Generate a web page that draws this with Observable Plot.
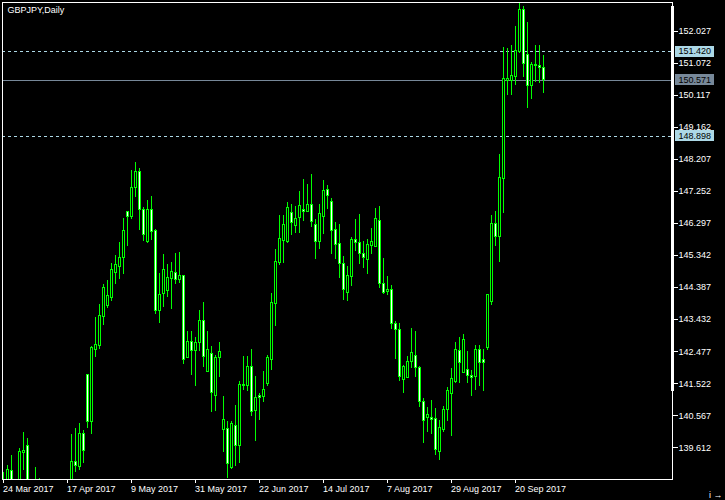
<!DOCTYPE html>
<html>
<head>
<meta charset="utf-8">
<script src="https://cdn.jsdelivr.net/npm/d3@7"></script>
<script src="https://cdn.jsdelivr.net/npm/@observablehq/plot@0.6"></script>
<style>
  html, body { margin: 0; padding: 0; background: #000; overflow: hidden; }
  svg { display: block; }
</style>
</head>
<body>
<script>
// GBPJPY daily candles, 24 Mar 2017 (bar 0) .. 29 Sep 2017 (bar 135)
const open = [138.55,138.40,138.906,138.30,138.40,139.451,139.651,138.50,138.20,138.00,
137.6,137.2,136.7,136.0,136.2,135.8,136.0,136.4,139.174,139.034,
140.029,141.767,140.375,142.532,142.652,143.504,143.832,144.082,144.815,144.994,
145.262,146.645,146.484,147.360,147.837,146.705,145.739,146.684,146.058,143.683,
144.201,144.279,144.637,144.827,144.619,144.717,142.294,142.759,142.491,142.741,
143.397,141.865,142.413,141.150,142.294,140.148,140.178,139.004,140.256,139.660,
141.439,141.448,142.014,140.703,141.141,141.120,141.519,142.234,143.903,145.113,
145.769,145.739,146.615,146.216,146.466,146.705,146.633,146.833,146.258,145.739,
146.484,147.280,146.943,146.109,145.691,145.095,144.219,144.696,145.811,145.721,
145.393,145.194,145.611,145.590,146.365,144.499,144.249,144.321,143.307,143.108,
141.639,141.698,142.163,142.354,141.996,140.971,140.506,140.506,140.476,139.481,
140.128,140.745,141.221,141.567,142.491,141.835,141.916,141.758,141.716,142.532,
142.214,142.580,143.951,146.288,145.888,147.629,150.528,150.537,150.656,151.401,
152.665,151.324,150.388,151.005,150.996,150.936];
const high = [138.885,139.085,139.383,138.60,139.582,140.068,139.880,138.60,139.016,138.688,
138.0,137.5,137.0,136.5,136.6,136.2,136.6,140.008,140.178,140.327,
140.128,141.796,142.631,143.486,143.883,144.479,144.598,145.095,145.343,145.730,
146.436,146.654,147.876,148.105,147.926,146.764,146.982,147.101,146.118,144.815,
145.373,145.075,145.134,145.393,145.432,144.747,143.078,143.078,142.899,143.704,
143.942,143.078,142.631,142.363,142.741,141.141,140.405,140.405,140.873,141.588,
142.333,142.333,142.541,141.737,141.221,141.886,142.354,144.201,145.522,146.535,
146.535,146.913,146.854,146.803,147.250,147.608,147.459,147.757,146.416,146.863,
147.578,147.429,147.041,146.317,146.267,145.313,145.015,145.870,146.416,146.565,
145.760,145.820,146.139,146.752,146.803,145.244,144.717,144.440,143.376,143.307,
142.065,142.333,143.158,143.078,142.035,141.090,140.822,141.022,140.774,140.426,
140.843,141.400,141.966,142.759,142.890,142.980,142.482,141.916,142.661,142.661,
142.532,144.151,146.535,146.654,148.353,151.532,151.503,151.601,152.167,152.862,
152.763,152.277,151.085,151.601,151.601,151.303];
const low = [138.2,138.2,138.1,137.9,138.2,138.936,138.3,138.0,137.7,137.3,
137.0,136.5,135.8,135.6,135.4,135.5,135.7,136.2,138.885,138.936,
139.135,140.178,140.008,142.312,142.541,143.257,143.772,143.981,144.479,144.637,
144.777,145.620,146.416,147.080,146.088,145.769,145.700,145.790,143.584,143.307,
143.793,144.100,143.734,144.479,144.517,142.094,142.280,141.767,141.448,142.491,
141.996,141.847,140.673,140.703,141.716,139.481,138.688,138.965,139.064,139.135,
141.320,141.299,140.545,139.809,140.426,140.971,141.439,141.916,143.236,145.045,
145.113,145.700,145.939,145.989,146.007,146.365,146.620,146.168,145.224,145.522,
145.969,146.714,145.373,145.215,144.666,144.002,143.972,144.419,145.462,145.075,
144.964,144.777,145.373,145.570,144.350,144.181,144.151,143.137,142.234,141.588,
141.221,141.690,141.966,141.698,140.822,139.749,140.077,140.008,139.383,139.234,
140.068,140.405,139.949,141.519,141.519,141.820,141.537,141.150,141.320,141.439,
141.290,142.512,143.853,145.611,145.143,146.603,150.111,150.111,150.409,151.372,
150.656,149.732,149.983,150.507,150.460,150.179];
const close = [138.45,138.936,138.30,138.20,139.481,139.502,138.50,138.10,138.00,137.60,
137.2,136.7,136.0,136.2,135.8,136.0,136.4,139.174,139.055,140.029,
139.511,140.375,142.592,142.661,143.525,144.359,144.121,144.917,145.066,145.274,
146.079,146.484,147.360,147.837,146.705,145.948,146.684,146.037,143.683,144.172,
144.917,144.678,144.857,144.619,144.738,142.234,142.771,142.491,142.741,143.397,
142.312,142.532,141.239,142.294,142.473,140.426,139.135,140.327,139.660,141.498,
141.498,142.014,140.673,141.102,141.090,141.320,142.294,143.933,145.155,145.840,
146.258,146.764,146.317,146.437,146.803,146.645,146.854,146.335,145.739,146.586,
147.259,147.101,146.067,145.662,145.095,144.321,144.738,145.811,145.709,145.393,
145.262,145.641,145.739,146.437,144.499,144.219,144.329,143.307,143.108,141.716,
142.014,142.163,142.443,141.996,140.971,140.405,140.575,140.426,139.552,140.208,
140.745,141.290,141.668,142.512,142.133,142.810,141.746,141.686,142.532,142.133,
142.133,144.151,146.288,145.888,147.658,150.609,150.588,150.677,151.431,152.665,
151.056,150.388,151.026,150.975,150.924,150.571];

const tickBars = [0, 16, 32, 48, 64, 80, 96, 112, 128];
const tickLabels = ["24 Mar 2017","17 Apr 2017","9 May 2017","31 May 2017","22 Jun 2017",
                    "14 Jul 2017","7 Aug 2017","29 Aug 2017","20 Sep 2017"];
const priceTicks = [152.027,151.072,150.117,149.162,148.207,147.252,146.297,145.342,
                    144.387,143.432,142.477,141.522,140.567,139.612];
const dashedLevels = [151.420, 148.898];
const bidLevel = [150.571];
const title = "GBPJPY,Daily";

const xDomain = [-0.125, 167.375];
const yDomain = [138.667, 152.882];
const pxX = 4;          // pixels per bar
const pxY = 33.556;     // pixels per yen

const candles = d3.range(open.length).map(i => ({i, o: open[i], h: high[i], l: low[i], c: close[i]}));
const top_ = d => Math.max(d.o, d.c);
const bot_ = d => Math.min(d.o, d.c);
const filled = candles.filter(d => Math.abs(d.o - d.c) > 0.045);

const GREEN = "#00ff00";
const levels = [
  ...dashedLevels.map(v => ({v, bg: "#add8e6"})),
  ...bidLevel.map(v => ({v, bg: "#778899"}))
];
const scaleBar = [{y1: 152.76, y2: 141.30}];

const plot = Plot.plot({
  width: 725,
  height: 500,
  marginTop: 2,
  marginRight: 53,
  marginBottom: 21,
  marginLeft: 2,
  style: {background: "#000", color: "#fff", fontFamily: "'Liberation Sans', Arial, sans-serif", fontSize: "9px", shapeRendering: "crispEdges"},
  x: {type: "linear", domain: xDomain},
  y: {type: "linear", domain: yDomain},
  marks: [
    Plot.ruleY(dashedLevels, {stroke: "#add8e6", strokeDasharray: "3,3"}),
    Plot.ruleY(bidLevel, {stroke: "#778899"}),
    Plot.ruleX(candles, {x: "i", y1: "h", y2: "l", stroke: GREEN, strokeWidth: 1, clip: true}),
    Plot.ruleX(candles, {x: "i", y1: top_, y2: bot_, stroke: GREEN, strokeWidth: 3, insetTop: -0.5, insetBottom: -0.5, clip: true}),
    Plot.ruleX(filled.filter(d => d.c >= d.o), {x: "i", y1: top_, y2: bot_, stroke: "#000", strokeWidth: 1, insetTop: 0.5, insetBottom: 0.5, clip: true}),
    Plot.ruleX(filled.filter(d => d.c < d.o), {x: "i", y1: top_, y2: bot_, stroke: "#fff", strokeWidth: 1, insetTop: 0.5, insetBottom: 0.5, clip: true}),
    Plot.frame({stroke: "#fff"}),
    Plot.rect(scaleBar, {x1: () => xDomain[1] - 1 / pxX, x2: () => xDomain[1] + 2 / pxX, y1: "y1", y2: "y2", fill: "#fff"}),
    Plot.axisY(priceTicks, {anchor: "right", tickSize: 5, tickPadding: 1, tickFormat: d => d.toFixed(3), fill: "#fff"}),
    Plot.axisX(tickBars, {anchor: "bottom", tickSize: 4, tickPadding: 2, textAnchor: "start", tickFormat: d => tickLabels[tickBars.indexOf(d)], fill: "#fff"}),
    Plot.text([title], {frameAnchor: "top-left", dx: 5, dy: 4, textAnchor: "start", lineAnchor: "top", fill: "#fff"}),
    Plot.rect(levels, {
      x1: () => xDomain[1] + 3 / pxX, x2: () => xDomain[1] + 42 / pxX,
      y1: d => d.v - 5.5 / pxY, y2: d => d.v + 5.5 / pxY,
      fill: d => d.bg
    }),
    Plot.text(levels, {x: () => xDomain[1] + 6 / pxX, y: "v", text: d => d.v.toFixed(3), textAnchor: "start", fill: "#000"})
  ]
});

document.body.appendChild(plot);
</script>
</body>
</html>
